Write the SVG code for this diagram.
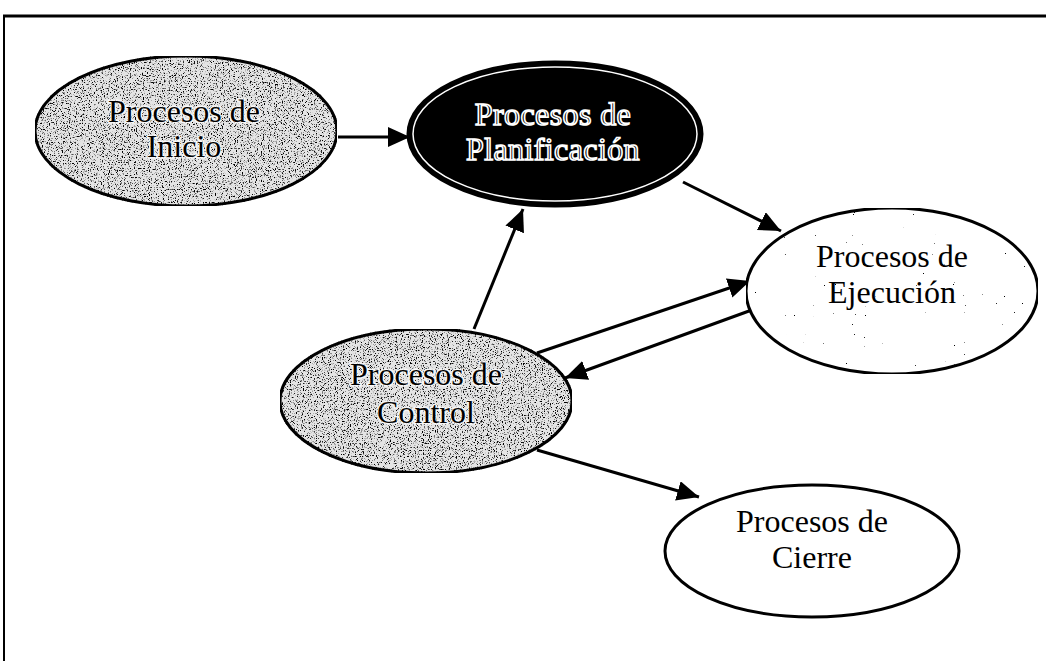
<svg xmlns="http://www.w3.org/2000/svg" width="1046" height="661" viewBox="0 0 1046 661">
<style>
.lbl{font-family:"Liberation Serif","Times New Roman",serif;font-size:32px;text-anchor:middle;fill:#000}
.halo{stroke:#fff;stroke-width:3px;stroke-opacity:0.75;paint-order:stroke}
.out{fill:#000;stroke:#fff;stroke-width:1.6px;letter-spacing:0.4px}
.node{stroke:#000;stroke-width:3}
.edge{stroke:#000;stroke-width:3;fill:none;marker-end:url(#ah)}
</style>
<defs>
<marker id="ah" markerUnits="userSpaceOnUse" markerWidth="24" markerHeight="22" refX="22" refY="10" orient="auto">
<path d="M0,0 L22,10 L0,20 Z" fill="#000"/>
</marker>
<filter id="grain" x="0" y="0" width="100%" height="100%" color-interpolation-filters="sRGB">
<feTurbulence type="fractalNoise" baseFrequency="0.85" numOctaves="2" seed="4" result="n"/>
<feColorMatrix in="n" type="matrix" values="0 0 0 0 0  0 0 0 0 0  0 0 0 0 0  6 0 0 0 -3.3" result="d"/>
<feComposite in="d" in2="SourceAlpha" operator="in" result="dc"/>
<feMerge><feMergeNode in="SourceGraphic"/><feMergeNode in="dc"/></feMerge>
</filter>
<filter id="sparse" x="0" y="0" width="100%" height="100%" color-interpolation-filters="sRGB">
<feTurbulence type="fractalNoise" baseFrequency="0.9" numOctaves="1" seed="9" result="n"/>
<feColorMatrix in="n" type="matrix" values="0 0 0 0 0  0 0 0 0 0  0 0 0 0 0  40 0 0 0 -30.5" result="d"/>
<feComposite in="d" in2="SourceAlpha" operator="in" result="dc"/>
<feMerge><feMergeNode in="SourceGraphic"/><feMergeNode in="dc"/></feMerge>
</filter>
</defs>
<rect width="1046" height="661" fill="#fff"/>
<g id="frame" stroke="#000" fill="none">
<line x1="3" y1="16" x2="1046" y2="16" stroke-width="3"/>
<line x1="4" y1="15" x2="4" y2="661" stroke-width="2"/>
</g>
<g id="connectors">
<line class="edge" x1="338" y1="137" x2="410" y2="137"/>
<line class="edge" x1="683" y1="182" x2="781" y2="231"/>
<line class="edge" x1="474" y1="329" x2="523" y2="209"/>
<line class="edge" x1="537" y1="353" x2="750" y2="281"/>
<line class="edge" x1="760" y1="307" x2="565" y2="378"/>
<line class="edge" x1="537" y1="450" x2="699" y2="497"/>
</g>
<g id="inicio">
<ellipse class="node" cx="186" cy="131" rx="151" ry="75" fill="#e4e4e4" filter="url(#grain)"/>
<text class="lbl halo" x="184" y="122">Procesos de</text>
<text class="lbl halo" x="184" y="157">Inicio</text>
</g>
<g id="planificacion">
<ellipse class="node" cx="555" cy="134" rx="147" ry="72" fill="#000"/>
<ellipse cx="555" cy="134" rx="142" ry="67" fill="none" stroke="#fff" stroke-width="1.5"/>
<text class="lbl out" x="553" y="125">Procesos de</text>
<text class="lbl out" x="553" y="160">Planificación</text>
</g>
<g id="ejecucion">
<ellipse class="node" cx="892" cy="291" rx="146" ry="83" fill="#fff" filter="url(#sparse)"/>
<text class="lbl" x="892" y="267">Procesos de</text>
<text class="lbl" x="892" y="303">Ejecución</text>
</g>
<g id="control">
<ellipse class="node" cx="426" cy="401" rx="146" ry="72" fill="#e4e4e4" filter="url(#grain)"/>
<text class="lbl halo" x="426" y="385">Procesos de</text>
<text class="lbl halo" x="426" y="423">Control</text>
</g>
<g id="cierre">
<ellipse class="node" cx="812" cy="551" rx="147" ry="66" fill="#fff"/>
<text class="lbl" x="812" y="532">Procesos de</text>
<text class="lbl" x="812" y="568">Cierre</text>
</g>
</svg>
